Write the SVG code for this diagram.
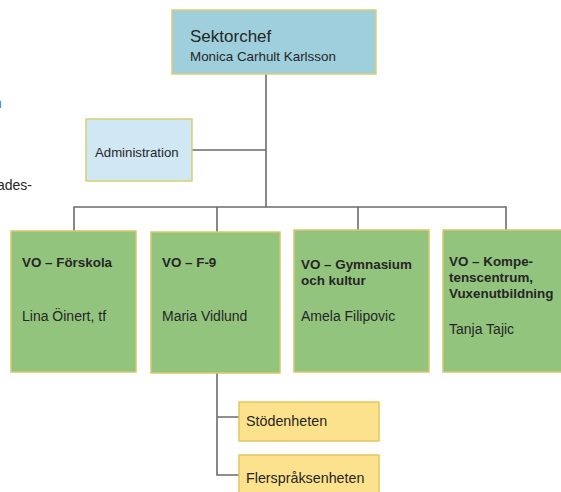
<svg xmlns="http://www.w3.org/2000/svg" width="561" height="492" viewBox="0 0 561 492">
<style>
text{font-family:"Liberation Sans",Arial,sans-serif;fill:#262626}
.line{stroke:#6b6b6b;stroke-width:1.6;fill:none}
.green{fill:#93c47e;stroke:#d4c96a;stroke-width:1.5}
.yellow{fill:#fde28d;stroke:#e6c55e;stroke-width:1.5}
.t{font-size:14px}
.b{font-size:13.4px;font-weight:bold}
.y{font-size:14.3px}
</style>
<rect width="561" height="492" fill="#ffffff"/>
<text x="-6" y="108" style="font-size:14px;fill:#4a7fc0">n</text>
<text x="-3" y="190" style="font-size:14px">ades-</text>
<g id="connectors">
<path class="line" d="M266 74V207M192 150H266M74 231V207H506V230M217 207V232M358 207V230M217 373V475H239M217 417H239"/>
</g>
<g id="sektorchef">
<rect x="172" y="10" width="204" height="64" fill="#9fcfdc" stroke="#d8d070" stroke-width="1.5"/>
<text x="190" y="42" style="font-size:17px">Sektorchef</text>
<text x="190" y="61" style="font-size:13.4px">Monica Carhult Karlsson</text>
</g>
<g id="administration">
<rect x="86" y="119" width="106" height="62" fill="#cfe8f4" stroke="#d8d070" stroke-width="1.5"/>
<text x="95" y="157" style="font-size:13.2px">Administration</text>
</g>
<g id="forskola">
<rect class="green" x="11" y="231" width="125" height="141"/>
<text class="b" x="22" y="267">VO – Förskola</text>
<text class="t" x="22" y="321">Lina Öinert, tf</text>
</g>
<g id="f9">
<rect class="green" x="151" y="232" width="129" height="141"/>
<text class="b" x="162" y="267">VO – F-9</text>
<text class="t" x="162" y="321">Maria Vidlund</text>
</g>
<g id="gymnasium">
<rect class="green" x="294" y="230" width="135" height="142"/>
<text class="b" x="301" y="269">VO – Gymnasium</text>
<text class="b" x="301" y="285">och kultur</text>
<text class="t" x="301" y="321">Amela Filipovic</text>
</g>
<g id="kompetenscentrum">
<rect class="green" x="443" y="230" width="125" height="142"/>
<text class="b" x="449" y="266">VO – Kompe-</text>
<text class="b" x="449" y="282">tenscentrum,</text>
<text class="b" x="449" y="298">Vuxenutbildning</text>
<text class="t" x="449" y="334">Tanja Tajic</text>
</g>
<g id="stodenheten">
<rect class="yellow" x="239" y="402" width="140" height="39"/>
<text class="y" x="246" y="426">Stödenheten</text>
</g>
<g id="flersprak">
<rect class="yellow" x="239" y="455" width="140" height="45"/>
<text class="y" x="246" y="483">Flerspråksenheten</text>
</g>
</svg>
